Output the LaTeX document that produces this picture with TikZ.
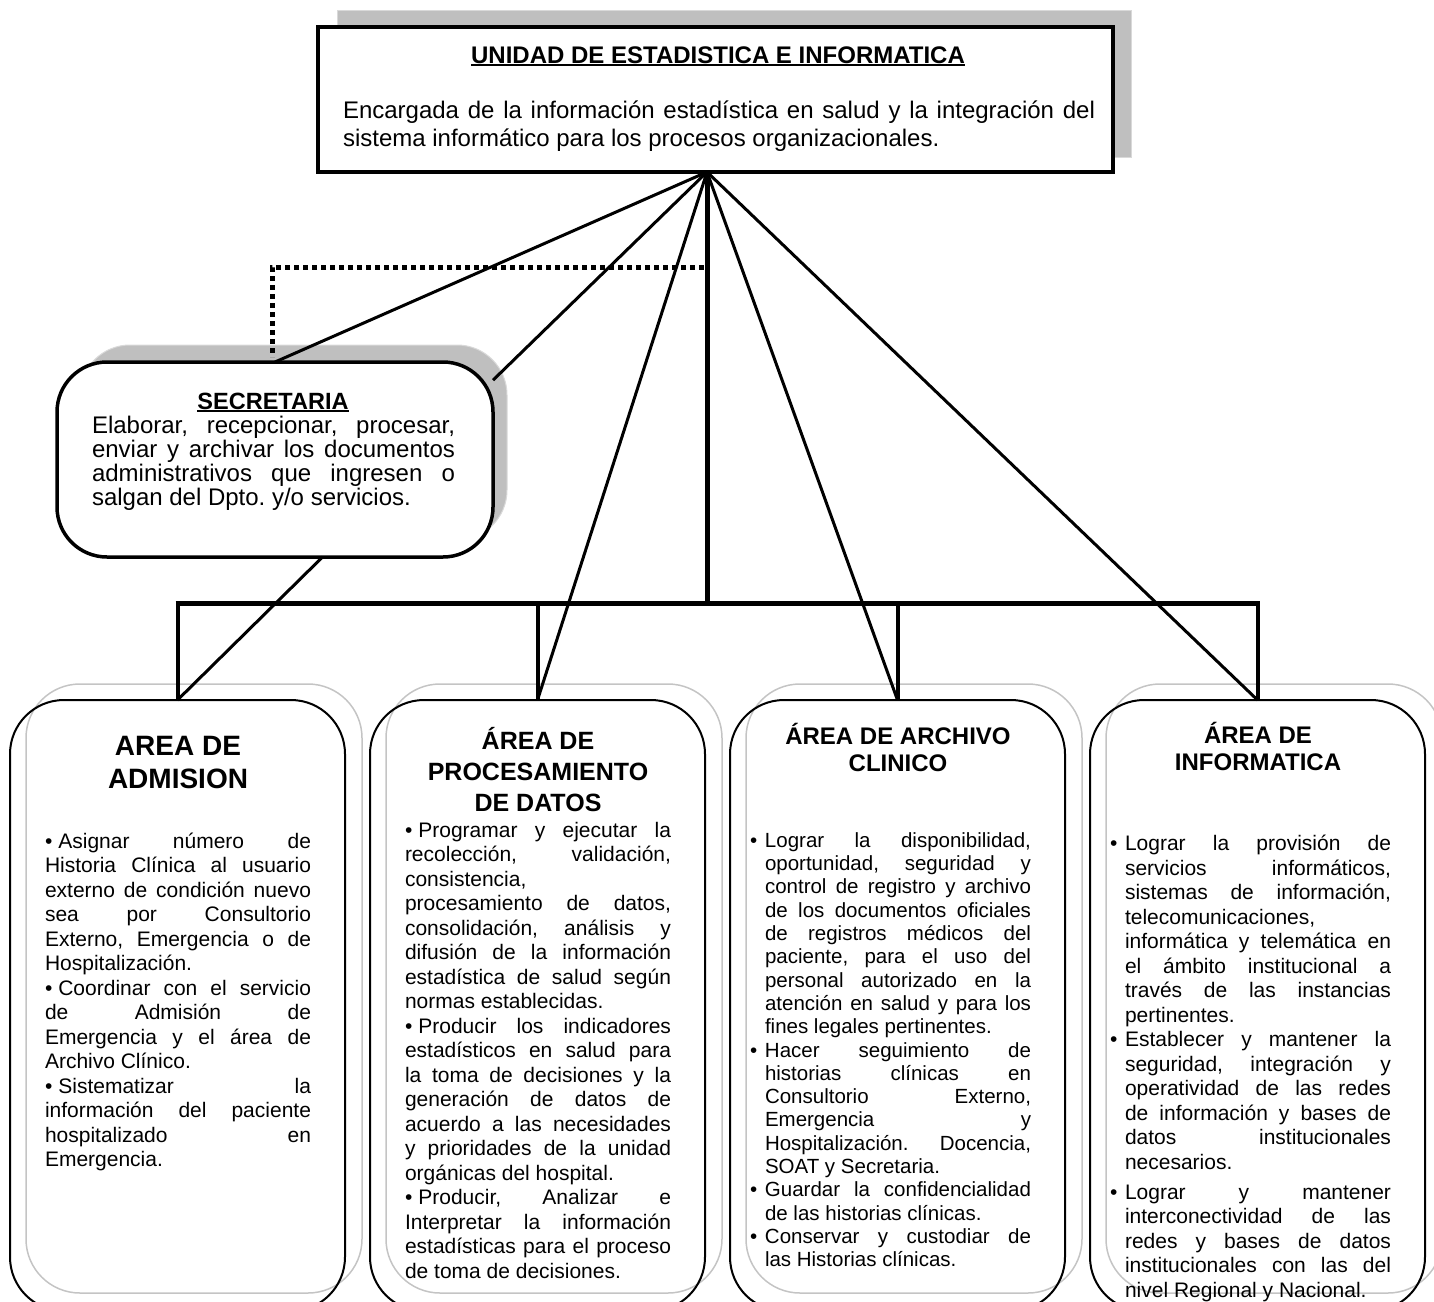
\documentclass[tikz,border=0pt]{standalone}
\usepackage{fontspec}
\setmainfont{Liberation Sans}
\usetikzlibrary{calc,positioning}
\definecolor{shadowgray}{HTML}{BFBFBF}
\definecolor{ghostgray}{HTML}{C4C4C4}
\newsavebox{\ulsave}
\newcommand{\ulbox}[1]{\sbox{\ulsave}{#1}\rlap{\rule[-3pt]{\wd\ulsave}{1.6pt}}\usebox{\ulsave}}
\newcommand{\plainpar}{\parindent=0pt\hyphenpenalty=10000\exhyphenpenalty=10000\tolerance=9999\frenchspacing}
\newcommand{\headfont}{\fontsize{24}{28}\selectfont\plainpar}
\newcommand{\secfont}{\fontsize{24}{24.3}\selectfont\plainpar}
\newcommand{\areafont}{\fontsize{21}{24.5}\selectfont\plainpar}
\newcommand{\archfont}{\fontsize{20.5}{23.3}\selectfont\plainpar}
\newcommand{\dotitem}{•\kern6pt}
\newcommand{\hangitem}{\par\noindent\llap{\makebox[15pt][l]{•}}}

\begin{document}
\begin{tikzpicture}[x=1pt, y=-1pt,
  every node/.style={inner sep=0pt, outer sep=0pt},
  shadowfill/.style={fill=shadowgray, draw=shadowgray!60!white, line width=1pt},
  headbox/.style={draw, fill=white, line width=3.5pt, minimum width=795pt, minimum height=145pt},
  secbox/.style={draw, fill=white, line width=3.5pt, rounded corners=50pt, minimum width=436pt, minimum height=195pt},
  areabox/.style={draw, line width=2pt, rounded corners=54pt, minimum width=335pt, minimum height=611pt},
  ghostbox/.style={draw=ghostgray, line width=1.5pt, rounded corners=54pt, minimum width=336pt, minimum height=609pt},
  link/.style={line width=3pt},
  trunk/.style={line width=5pt},
  drop/.style={line width=4pt},
  dotlink/.style={line width=5pt, dash pattern=on 5pt off 4pt},
  areatitle/.style={font=\bfseries\fontsize{24}{27}\selectfont, align=center, anchor=base},
  areatext/.style={font=\areafont, text width=266pt, align=justify, anchor=base west}]
  \useasboundingbox (0,0) rectangle (1434,1301);

  % --- Head unit ---
  \path[shadowfill] (337,10) rectangle (1131,157);
  \node[headbox] (unidad) at (715.5,99.5) {};
  \node[font=\bfseries\fontsize{24}{28}\selectfont, anchor=base] (unidadtitle) at (718,63)
    {\ulbox{UNIDAD DE ESTADISTICA E INFORMATICA}};
  \node[font=\headfont, text width=752pt, align=justify, anchor=base west] (unidadtext) at (343,118)
    {Encargada de la información estadística en salud y la integración del\linebreak
     sistema informático para los procesos organizacionales.};

  % --- Secretaria ---
  \path[shadowfill, rounded corners=50pt] (80,345) rectangle (507,540);
  \node[secbox] (secretaria) at (275,459.5) {};
  \node[font=\bfseries\fontsize{23.5}{27}\selectfont, anchor=base] (secretariatitle) at (273,409)
    {\ulbox{SECRETARIA}};
  \node[font=\secfont, text width=363pt, align=justify, anchor=base west] (secretariatext) at (92,433)
    {Elaborar, recepcionar, procesar,\linebreak enviar y archivar los documentos\linebreak
     administrativos que ingresen o\linebreak salgan del Dpto. y/o servicios.};

  % --- Area boxes ---
  \foreach \name/\cx in {admision/177.5, procesamiento/537.5, archivo/897.5, informatica/1257.5}{
    \node[ghostbox] (\name-ghost) at (\cx+16.5,988.5) {};
    \node[areabox] (\name) at (\cx,1005.5) {};
  }

  % --- Connectors ---
  \coordinate (apex) at ($(unidad.south)+(-8.5,0)$);
  \coordinate (busmid) at ($(apex)+(0,431)$);
  \coordinate (dotjoin) at ($(apex)+(-3,95)$);
  \draw[dotlink] (dotjoin) -| ($(secretaria.north)+(-3,-5)$);
  \draw[trunk] (apex) -- (busmid);
  \draw[trunk, shorten <=-2pt, shorten >=-2pt] (admision.north |- busmid) -- (informatica.north |- busmid);
  \foreach \name in {admision, procesamiento, archivo, informatica}
    \draw[drop] (\name.north |- busmid) -- (\name.north);
  \draw[link] (apex) -- (secretaria.north);
  \draw[link] (apex) -- (secretaria.20);
  \draw[link] (apex) -- (procesamiento.north);
  \draw[link] (apex) -- (archivo.north);
  \draw[link] (apex) -- (informatica.north);
  \draw[link] (secretaria.-64) -- (admision.north);

  % --- Area de admision ---
  \node[areatitle, font=\bfseries\fontsize{28}{33}\selectfont] (admisiontitle) at (178,788) {AREA DE\\ADMISION};
  \node[areatext] (admisiontext) at (45,848)
    {\dotitem Asignar número de\linebreak Historia Clínica al usuario\linebreak externo de condición nuevo\linebreak
     sea por Consultorio\linebreak Externo, Emergencia o de\linebreak Hospitalización.\par
     \dotitem Coordinar con el servicio\linebreak de Admisión de\linebreak Emergencia y el área de\linebreak
     Archivo Clínico.\par
     \dotitem Sistematizar la\linebreak información del paciente\linebreak hospitalizado en\linebreak Emergencia.};

  % --- Area de procesamiento de datos ---
  \node[areatitle, font=\bfseries\fontsize{25}{31}\selectfont] (procesamientotitle) at (538,811)
    {ÁREA DE\\PROCESAMIENTO\\DE DATOS};
  \node[areatext] (procesamientotext) at (405,837)
    {\dotitem Programar y ejecutar la\linebreak recolección, validación,\linebreak consistencia,\newline
     procesamiento de datos,\linebreak consolidación, análisis y\linebreak difusión de la información\linebreak
     estadística de salud según\linebreak normas establecidas.\par
     \dotitem Producir los indicadores\linebreak estadísticos en salud para\linebreak la toma de decisiones y la\linebreak
     generación de datos de\linebreak acuerdo a las necesidades\linebreak y prioridades de la unidad\linebreak
     orgánicas del hospital.\par
     \dotitem Producir, Analizar e\linebreak Interpretar la información\linebreak estadísticas para el proceso\linebreak
     de toma de decisiones.};

  % --- Area de archivo clinico ---
  \node[areatitle] (archivotitle) at (898,771) {ÁREA DE ARCHIVO\\CLINICO};
  \node[areatext, font=\archfont] (archivotext) at (765,824)
    {\hangitem Lograr la disponibilidad,\linebreak oportunidad, seguridad y\linebreak control de registro y archivo\linebreak
     de los documentos oficiales\linebreak de registros médicos del\linebreak paciente, para el uso del\linebreak
     personal autorizado en la\linebreak atención en salud y para los\linebreak fines legales pertinentes.
     \hangitem Hacer seguimiento de\linebreak historias clínicas en\linebreak Consultorio Externo,\linebreak
     Emergencia y\linebreak Hospitalización. Docencia,\linebreak SOAT y Secretaria.
     \hangitem Guardar la confidencialidad\linebreak de las historias clínicas.
     \hangitem Conservar y custodiar de\linebreak las Historias clínicas.};

  % --- Area de informatica ---
  \node[areatitle] (informaticatitle) at (1258,770) {ÁREA DE\\INFORMATICA};
  \node[areatext] (informaticatext) at (1125,826)
    {\hangitem Lograr la provisión de\linebreak servicios informáticos,\linebreak sistemas de información,\linebreak
     telecomunicaciones,\newline informática y telemática en\linebreak el ámbito institucional a\linebreak
     través de las instancias\linebreak pertinentes.
     \hangitem Establecer y mantener la\linebreak seguridad, integración y\linebreak operatividad de las redes\linebreak
     de información y bases de\linebreak datos institucionales\linebreak necesarios.\par\vspace{5.5pt}
     \hangitem Lograr y mantener\linebreak interconectividad de las\linebreak redes y bases de datos\linebreak
     institucionales con las del\linebreak nivel Regional y Nacional.};
\end{tikzpicture}
\end{document}
